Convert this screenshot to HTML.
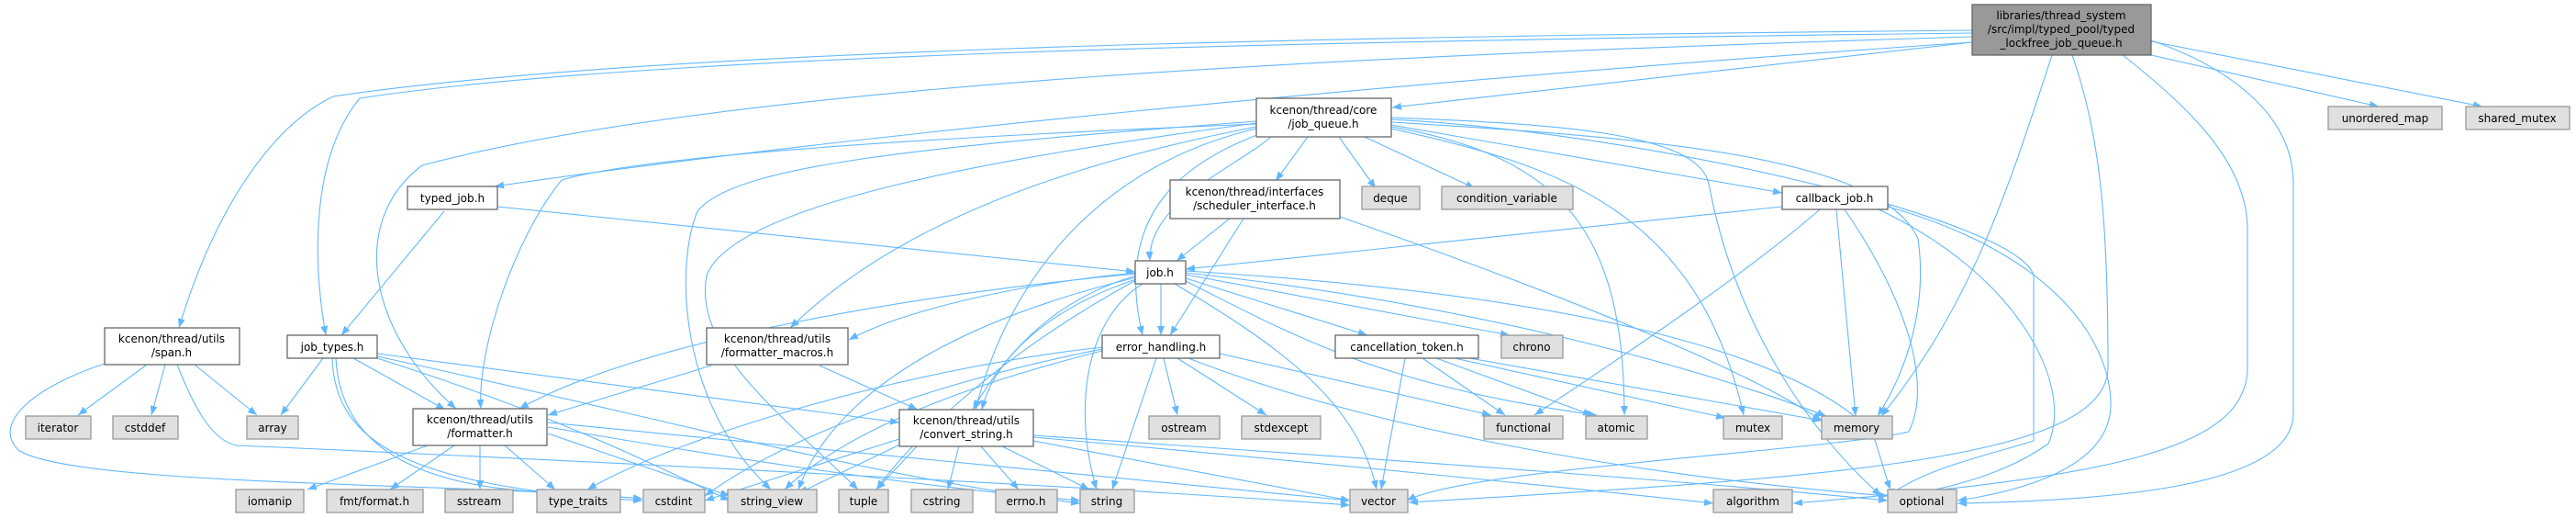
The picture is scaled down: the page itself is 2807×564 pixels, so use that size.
<!DOCTYPE html>
<html><head><meta charset="utf-8"><style>
html,body{margin:0;padding:0;background:#fff}
svg{display:block}
text{font-family:"DejaVu Sans","Liberation Sans",sans-serif;font-size:12px;fill:#000}
.e{fill:none;stroke:#63b8ff;stroke-width:1.1}
.w{fill:#fff;stroke:#666;stroke-width:1.3}
.g{fill:#e0e0e0;stroke:#999;stroke-width:1.3}
.t{fill:#999;stroke:#666;stroke-width:1.3}
</style></head><body>
<svg width="2807" height="564" viewBox="0 0 2807 564" xmlns="http://www.w3.org/2000/svg">
<defs><marker id="a" viewBox="0 0 10 10" refX="10" refY="5" markerWidth="10" markerHeight="10" markerUnits="userSpaceOnUse" orient="auto"><path d="M0,1 L10,5 L0,9 z" fill="#63b8ff"/></marker></defs>
<g class="e" marker-end="url(#a)">
<path d="M2149,33 C1400,40 700,55 363,105 C290,140 230,240 195,357"/>
<path d="M2149,36 C1400,45 700,60 392,107 C340,170 340,280 355,365"/>
<path d="M2149,40 C1500,60 800,90 460,180 C380,240 400,360 497,445"/>
<path d="M2149,46 C1500,90 900,150 539,203"/>
<path d="M2149,46 L1517,117"/>
<path d="M2236,60 C2190,200 2150,330 2050,453"/>
<path d="M2258,60 C2290,150 2297,250 2297,400 C2297,500 2000,520 1535,547"/>
<path d="M2313,60 C2390,120 2449,180 2449,250 L2449,400 C2449,490 2300,520 1954,548"/>
<path d="M2344,44 C2420,70 2499,120 2499,200 L2499,450 C2499,530 2300,545 2133,548"/>
<path d="M2344,60 L2592,116"/>
<path d="M2344,45 L2705,116"/>
<path d="M1425,149 L1390,197"/>
<path d="M1459,149 L1499,205"/>
<path d="M1487,149 L1607,205"/>
<path d="M1385,149 C1350,180 1250,220 1253,284"/>
<path d="M1375,145 C1280,180 1215,240 1245,365"/>
<path d="M1369,140 C1200,180 1100,300 1063,446"/>
<path d="M1369,138 C1100,190 950,270 861,357"/>
<path d="M1369,135 C1000,150 700,170 612,196 C560,260 520,380 524,445"/>
<path d="M1369,132 C1000,160 800,180 760,230 C735,290 740,440 840,533"/>
<path d="M1369,134 C1100,170 800,220 770,300 C755,380 850,450 935,533"/>
<path d="M1516,136 L1942,210"/>
<path d="M1516,138 C1700,170 1770,250 1770,452"/>
<path d="M1516,140 C1700,180 1850,230 1900,452"/>
<path d="M1516,133 C1800,150 2050,170 2090,260 C2100,330 2080,400 2046,453"/>
<path d="M1516,130 C1800,145 2200,240 2216,300 L2216,480 C2150,500 2100,510 2057,540"/>
<path d="M1516,128 C1700,135 1850,145 1862,200 C1890,350 1970,470 2050,540"/>
<path d="M542,225 L1237,296"/>
<path d="M484,230 L372,365"/>
<path d="M1340,238 L1282,284"/>
<path d="M1355,238 L1275,365"/>
<path d="M1460,236 C1700,320 1900,400 1985,458"/>
<path d="M1942,225 L1292,293"/>
<path d="M1983,228 C1900,300 1780,380 1672,452"/>
<path d="M2001,228 L2022,453"/>
<path d="M2010,228 C2080,330 2105,420 2080,470 C2000,490 1600,510 1533,545"/>
<path d="M2047,228 C2200,300 2260,420 2232,483 C2180,520 2120,530 2080,540"/>
<path d="M2057,225 C2250,280 2300,380 2300,440 C2300,510 2200,535 2133,545"/>
<path d="M1265,309 L1265,365"/>
<path d="M1292,303 L1490,365"/>
<path d="M1292,299 L1645,365"/>
<path d="M1292,297 C1600,330 1850,400 1990,453"/>
<path d="M1292,295 C1700,320 1950,380 2040,470 C2050,500 2055,520 2060,533"/>
<path d="M1292,306 C1400,360 1500,420 1740,452"/>
<path d="M1280,309 C1400,380 1480,440 1500,533"/>
<path d="M1245,309 C1180,350 1170,450 1195,533"/>
<path d="M1238,304 C1130,340 1080,400 1070,446"/>
<path d="M1238,300 C1170,320 1110,360 1060,446"/>
<path d="M1238,297 C1100,310 980,340 925,370"/>
<path d="M1238,298 C1000,320 700,370 566,445"/>
<path d="M1238,302 C1000,360 900,450 870,533"/>
<path d="M1238,305 C1100,380 1000,470 955,533"/>
<path d="M1531,390 L1505,533"/>
<path d="M1550,390 L1640,452"/>
<path d="M1565,390 L1735,452"/>
<path d="M1585,390 L1880,455"/>
<path d="M1590,388 L1985,458"/>
<path d="M1268,390 L1283,452"/>
<path d="M1283,390 L1380,452"/>
<path d="M1329,385 L1625,452"/>
<path d="M1260,390 L1212,533"/>
<path d="M1295,390 C1500,470 1800,520 2057,540"/>
<path d="M1201,382 C1050,420 920,470 855,533"/>
<path d="M1201,378 C1000,400 750,470 640,533"/>
<path d="M1201,380 C1000,420 850,480 768,540"/>
<path d="M1000,485 L955,533"/>
<path d="M1045,485 L1033,533"/>
<path d="M1068,485 L1110,533"/>
<path d="M1090,485 L1187,533"/>
<path d="M1126,480 L1471,545"/>
<path d="M1126,476 C1400,500 1700,530 1867,548"/>
<path d="M1126,474 C1500,500 1800,520 2057,545"/>
<path d="M985,482 L870,537"/>
<path d="M980,478 L768,545"/>
<path d="M775,398 L597,452"/>
<path d="M893,398 L1000,446"/>
<path d="M466,485 L335,533"/>
<path d="M495,485 L425,533"/>
<path d="M523,485 L523,533"/>
<path d="M550,485 L605,533"/>
<path d="M597,472 L795,540"/>
<path d="M597,465 C800,500 1000,530 1177,545"/>
<path d="M597,460 C900,490 1200,520 1471,545"/>
<path d="M352,390 L306,452"/>
<path d="M385,390 L485,446"/>
<path d="M411,385 L980,460"/>
<path d="M366,390 C370,470 430,530 600,536"/>
<path d="M362,390 C365,480 440,530 700,545"/>
<path d="M411,388 C700,450 950,520 1177,548"/>
<path d="M411,390 C600,450 700,500 795,545"/>
<path d="M160,397 L85,452"/>
<path d="M180,397 L165,452"/>
<path d="M212,397 L280,452"/>
<path d="M114,396 C40,420 -10,460 20,490 C80,530 500,525 700,543"/>
<path d="M193,397 C210,440 230,480 258,485 C600,500 1200,530 1471,550"/>
</g>
<rect class="t" x="2149" y="5" width="195" height="55"/>
<text x="2246" y="21" text-anchor="middle">libraries/thread_system</text>
<text x="2246" y="36" text-anchor="middle">/src/impl/typed_pool/typed</text>
<text x="2246" y="51" text-anchor="middle">_lockfree_job_queue.h</text>
<rect class="w" x="1369" y="107" width="147" height="42"/>
<text x="1442" y="124" text-anchor="middle">kcenon/thread/core</text>
<text x="1442" y="139" text-anchor="middle">/job_queue.h</text>
<rect class="w" x="444" y="203" width="98" height="25"/><text x="493" y="220" text-anchor="middle">typed_job.h</text>
<rect class="w" x="1275" y="196" width="185" height="42"/>
<text x="1367" y="213" text-anchor="middle">kcenon/thread/interfaces</text>
<text x="1367" y="228" text-anchor="middle">/scheduler_interface.h</text>
<rect class="g" x="1484" y="203" width="63" height="25"/><text x="1515" y="220" text-anchor="middle">deque</text>
<rect class="g" x="1571" y="203" width="143" height="25"/><text x="1642" y="220" text-anchor="middle">condition_variable</text>
<rect class="w" x="1942" y="203" width="115" height="25"/><text x="1999" y="220" text-anchor="middle">callback_job.h</text>
<rect class="g" x="2537" y="116" width="124" height="25"/><text x="2599" y="133" text-anchor="middle">unordered_map</text>
<rect class="g" x="2687" y="116" width="113" height="25"/><text x="2743" y="133" text-anchor="middle">shared_mutex</text>
<rect class="w" x="1237" y="284" width="55" height="25"/><text x="1264" y="301" text-anchor="middle">job.h</text>
<rect class="w" x="114" y="357" width="147" height="40"/>
<text x="187" y="373" text-anchor="middle">kcenon/thread/utils</text>
<text x="187" y="388" text-anchor="middle">/span.h</text>
<rect class="w" x="313" y="365" width="98" height="25"/><text x="362" y="382" text-anchor="middle">job_types.h</text>
<rect class="w" x="770" y="357" width="154" height="40"/>
<text x="847" y="373" text-anchor="middle">kcenon/thread/utils</text>
<text x="847" y="388" text-anchor="middle">/formatter_macros.h</text>
<rect class="w" x="1201" y="365" width="128" height="25"/><text x="1265" y="382" text-anchor="middle">error_handling.h</text>
<rect class="w" x="1455" y="365" width="156" height="25"/><text x="1533" y="382" text-anchor="middle">cancellation_token.h</text>
<rect class="g" x="1636" y="365" width="67" height="25"/><text x="1669" y="382" text-anchor="middle">chrono</text>
<rect class="w" x="450" y="445" width="146" height="40"/>
<text x="523" y="461" text-anchor="middle">kcenon/thread/utils</text>
<text x="523" y="476" text-anchor="middle">/formatter.h</text>
<rect class="w" x="980" y="446" width="146" height="40"/>
<text x="1053" y="462" text-anchor="middle">kcenon/thread/utils</text>
<text x="1053" y="477" text-anchor="middle">/convert_string.h</text>
<rect class="g" x="28" y="453" width="71" height="25"/><text x="63" y="470" text-anchor="middle">iterator</text>
<rect class="g" x="123" y="453" width="71" height="25"/><text x="158" y="470" text-anchor="middle">cstddef</text>
<rect class="g" x="269" y="453" width="56" height="25"/><text x="297" y="470" text-anchor="middle">array</text>
<rect class="g" x="1252" y="453" width="77" height="25"/><text x="1290" y="470" text-anchor="middle">ostream</text>
<rect class="g" x="1353" y="453" width="86" height="25"/><text x="1396" y="470" text-anchor="middle">stdexcept</text>
<rect class="g" x="1617" y="453" width="86" height="25"/><text x="1660" y="470" text-anchor="middle">functional</text>
<rect class="g" x="1728" y="453" width="67" height="25"/><text x="1761" y="470" text-anchor="middle">atomic</text>
<rect class="g" x="1878" y="453" width="64" height="25"/><text x="1910" y="470" text-anchor="middle">mutex</text>
<rect class="g" x="1985" y="453" width="77" height="25"/><text x="2023" y="470" text-anchor="middle">memory</text>
<rect class="g" x="257" y="533" width="74" height="25"/><text x="294" y="550" text-anchor="middle">iomanip</text>
<rect class="g" x="356" y="533" width="105" height="25"/><text x="408" y="550" text-anchor="middle">fmt/format.h</text>
<rect class="g" x="485" y="533" width="74" height="25"/><text x="522" y="550" text-anchor="middle">sstream</text>
<rect class="g" x="585" y="533" width="91" height="25"/><text x="630" y="550" text-anchor="middle">type_traits</text>
<rect class="g" x="701" y="533" width="67" height="25"/><text x="734" y="550" text-anchor="middle">cstdint</text>
<rect class="g" x="793" y="533" width="97" height="25"/><text x="841" y="550" text-anchor="middle">string_view</text>
<rect class="g" x="914" y="533" width="54" height="25"/><text x="941" y="550" text-anchor="middle">tuple</text>
<rect class="g" x="993" y="533" width="67" height="25"/><text x="1026" y="550" text-anchor="middle">cstring</text>
<rect class="g" x="1085" y="533" width="67" height="25"/><text x="1118" y="550" text-anchor="middle">errno.h</text>
<rect class="g" x="1177" y="533" width="59" height="25"/><text x="1206" y="550" text-anchor="middle">string</text>
<rect class="g" x="1471" y="533" width="63" height="25"/><text x="1502" y="550" text-anchor="middle">vector</text>
<rect class="g" x="1867" y="533" width="86" height="25"/><text x="1910" y="550" text-anchor="middle">algorithm</text>
<rect class="g" x="2057" y="533" width="75" height="25"/><text x="2094" y="550" text-anchor="middle">optional</text>
</svg>
</body></html>
